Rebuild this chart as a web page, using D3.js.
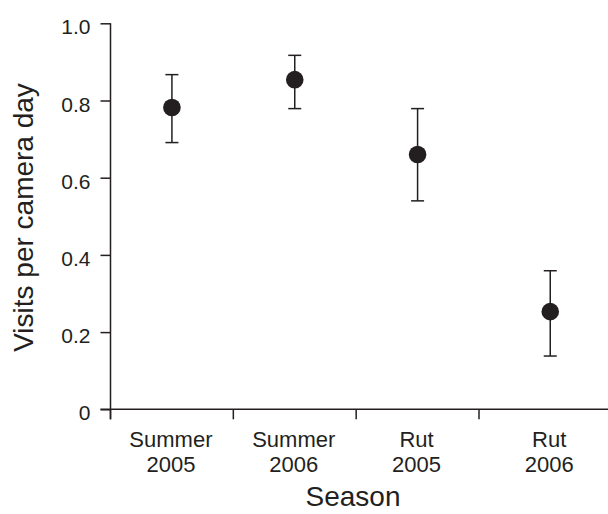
<!DOCTYPE html>
<html>
<head>
<meta charset="utf-8">
<script src="https://cdn.jsdelivr.net/npm/d3@7"></script>
<style>
  body { margin: 0; background: #fff; }
  svg text { font-family: "Liberation Sans", Arial, Helvetica, sans-serif; fill: #231f20; }
</style>
</head>
<body>
<svg id="chart" width="608" height="514"></svg>
<script>
// data
var seasons = [["Summer", "2005"], ["Summer", "2006"], ["Rut", "2005"], ["Rut", "2006"]]
var seasonPos = [1, 2, 3, 4.08]
var visits = [0.782, 0.854, 0.660, 0.253]
var lower = [0.691, 0.779, 0.540, 0.138]
var upper = [0.867, 0.917, 0.779, 0.359]
var yTicks = [0, 0.2, 0.4, 0.6, 0.8, 1.0]
var xBounds = [0.5, 1.5, 2.5, 3.5]

const ink = "#231f20"
const plot = { left: 110.5, right: 608, top: 23.3, bottom: 409.3 }

var svg = d3.select("#chart")

var yScale = d3.scaleLinear().domain([0, 1]).range([plot.bottom, plot.top])
var xScale = d3.scaleLinear().domain([0.5, 3.5]).range([plot.left, 479])

// y axis
var y_axis = svg.append("g")
    .attr("transform", "translate(" + plot.left + ",0)")
    .call(d3.axisLeft(yScale).tickValues(yTicks).tickSize(10).tickPadding(10)
        .tickFormat(d => d == 0 ? "0" : d3.format(".1f")(d)))
y_axis.select(".domain").remove()
y_axis.selectAll("line").attr("stroke", ink).attr("stroke-width", 1.5)
y_axis.selectAll("text").attr("font-size", 21).attr("dy", "0.5em").attr("fill", ink)
    .attr("font-family", "Liberation Sans, Arial, sans-serif")

svg.append("line")
    .attr("x1", plot.left).attr("x2", plot.left)
    .attr("y1", yScale(1)).attr("y2", plot.bottom + 10)
    .attr("stroke", ink).attr("stroke-width", 1.5)

// x axis
svg.append("line")
    .attr("x1", plot.left - 10).attr("x2", plot.right)
    .attr("y1", plot.bottom).attr("y2", plot.bottom)
    .attr("stroke", ink).attr("stroke-width", 1.5)

svg.selectAll(".xtick")
    .data(xBounds)
    .join("line")
        .attr("class", "xtick")
        .attr("x1", d => xScale(d)).attr("x2", d => xScale(d))
        .attr("y1", plot.bottom).attr("y2", plot.bottom + 10)
        .attr("stroke", ink).attr("stroke-width", 1.5)

var labels = svg.selectAll(".xlab")
    .data(seasons)
    .join("text")
        .attr("class", "xlab")
        .attr("text-anchor", "middle")
        .attr("font-size", 22)
        .attr("transform", (d, i) => "translate(" + (xScale(seasonPos[i]) - 1) + "," + (plot.bottom + 37.5) + ")")
labels.selectAll("tspan")
    .data(d => d)
    .join("tspan")
        .attr("x", 0)
        .attr("y", (d, i) => i * 25)
        .text(d => d)

// axis titles
svg.append("text")
    .attr("transform", "translate(33,217.5) rotate(-90)")
    .attr("text-anchor", "middle")
    .attr("font-size", 28)
    .text("Visits per camera day")

svg.append("text")
    .attr("x", 353)
    .attr("y", 506)
    .attr("text-anchor", "middle")
    .attr("font-size", 28)
    .text("Season")

// error bars
var bars = svg.selectAll(".err")
    .data(visits)
    .join("g")
        .attr("class", "err")
        .attr("stroke", ink)
        .attr("stroke-width", 1.5)
bars.append("line")
    .attr("x1", (d, i) => xScale(seasonPos[i])).attr("x2", (d, i) => xScale(seasonPos[i]))
    .attr("y1", (d, i) => yScale(lower[i])).attr("y2", (d, i) => yScale(upper[i]))
bars.append("line")
    .attr("x1", (d, i) => xScale(seasonPos[i]) - 6.5).attr("x2", (d, i) => xScale(seasonPos[i]) + 6.5)
    .attr("y1", (d, i) => yScale(upper[i])).attr("y2", (d, i) => yScale(upper[i]))
bars.append("line")
    .attr("x1", (d, i) => xScale(seasonPos[i]) - 6.5).attr("x2", (d, i) => xScale(seasonPos[i]) + 6.5)
    .attr("y1", (d, i) => yScale(lower[i])).attr("y2", (d, i) => yScale(lower[i]))

// points
svg.selectAll(".dot")
    .data(visits)
    .join("circle")
        .attr("class", "dot")
        .attr("cx", (d, i) => xScale(seasonPos[i]))
        .attr("cy", d => yScale(d))
        .attr("r", 8.8)
        .attr("fill", ink)
</script>
</body>
</html>
